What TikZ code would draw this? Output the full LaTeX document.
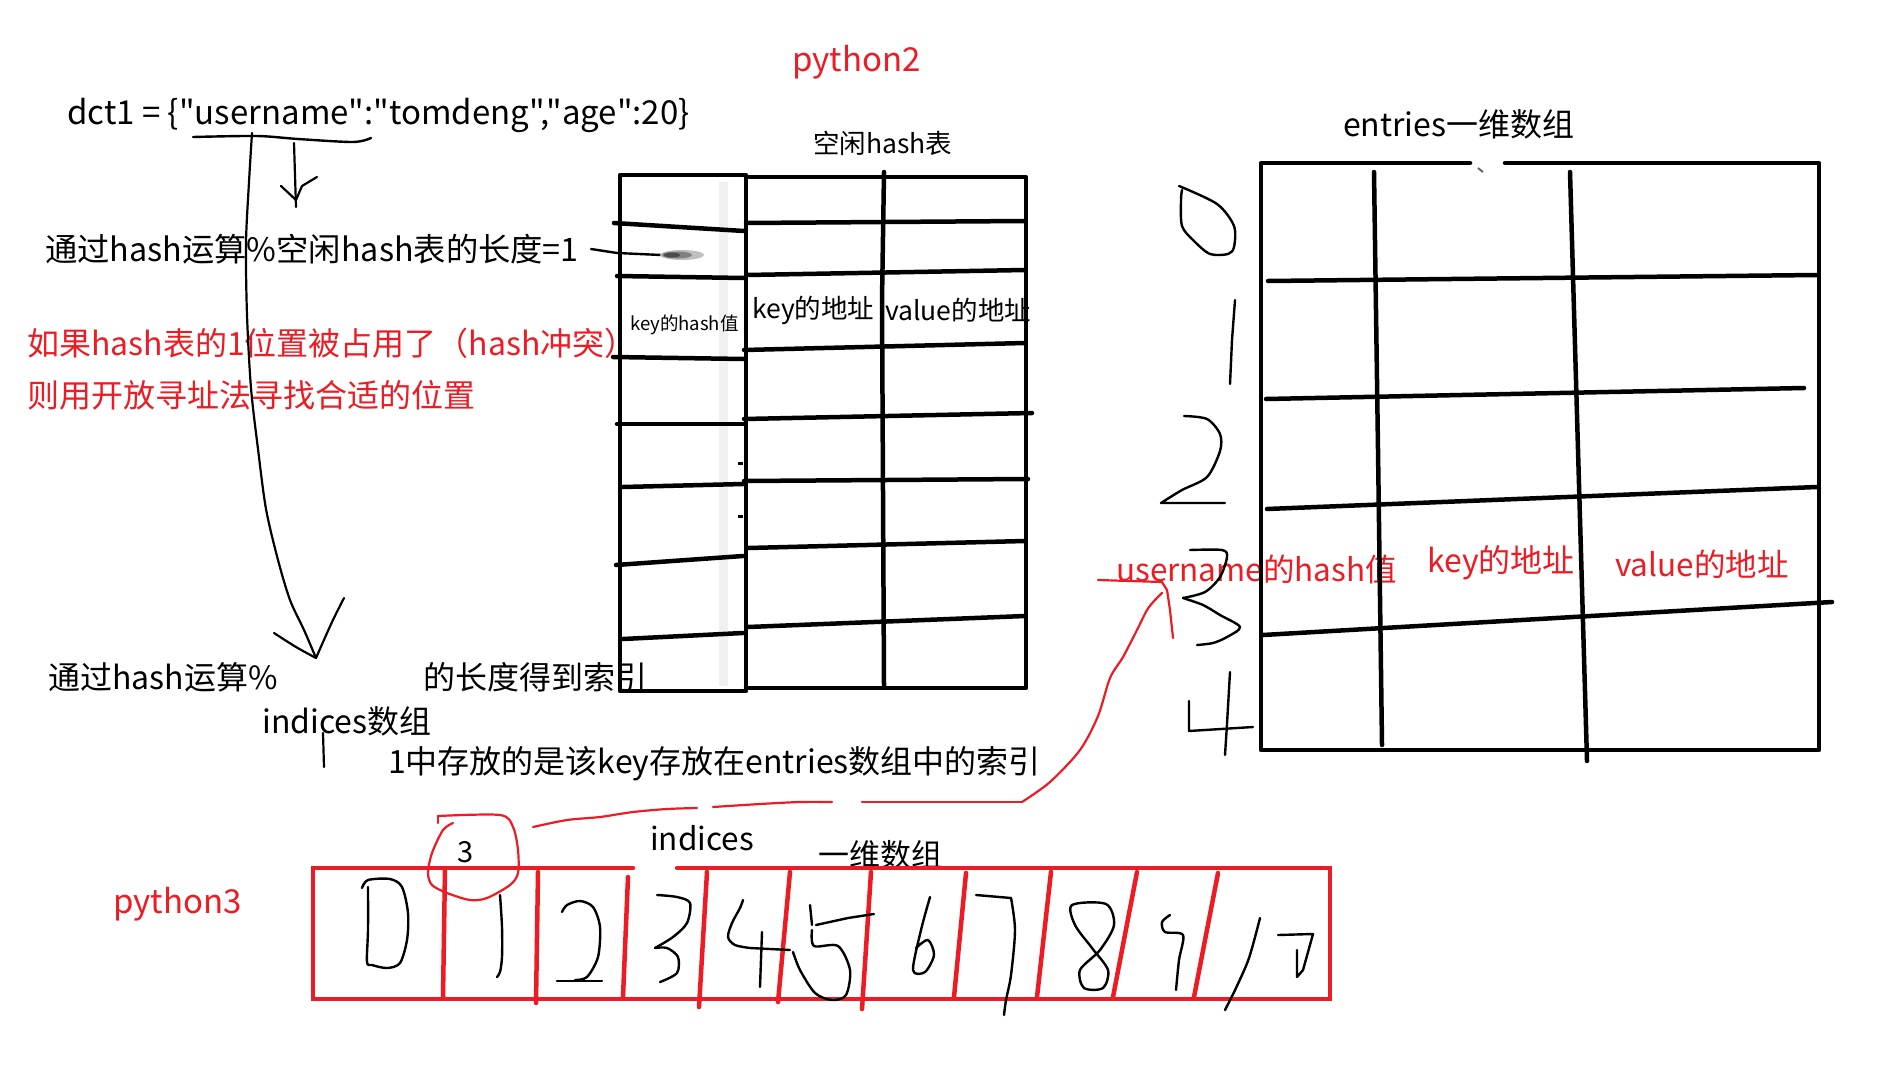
\documentclass[tikz,border=0pt]{standalone}
\usepackage{fontspec}
\setmainfont{Noto Sans CJK SC}[Ligatures=TeXOff]
\definecolor{pred}{RGB}{237,28,36}
\newcommand{\fsz}[1]{\fontsize{#1pt}{#1pt}\selectfont}
\begin{document}
\begin{tikzpicture}[x=1pt,y=-1pt,
  tbl/.style={line width=4.5pt,line cap=round,line join=round},
  hand/.style={line width=2.4pt,line cap=round,line join=round},
  redbox/.style={draw=pred,line width=4.5pt,line cap=round},
  redhand/.style={draw=pred,line width=2.2pt,line cap=round,line join=round},
  txt/.style={inner sep=0pt,anchor=west},
  rtxt/.style={inner sep=0pt,anchor=west,text=pred}]
\useasboundingbox[fill=white] (0,0) rectangle (1902,1065);

% faint streak in the hash table's first column
\draw[black!6,line width=9pt] (723,182) -- (723,686);

% ---------- texts ----------
\node[rtxt,font=\fsz{33}] (py2) at (792,62) {python2};
\node[txt,font=\fsz{33}] (dct) at (67,115) {dct1 = \{"username":"tomdeng","age":20\}};
\node[txt,font=\fsz{32.3}] (t1) at (45,249) {通过hash运算\%空闲hash表的长度=1};
\node[rtxt,font=\fsz{32}] (r1) at (27,343) {如果hash表的1位置被占用了（hash冲突）};
\node[rtxt,font=\fsz{32}] (r2) at (27,395) {则用开放寻址法寻找合适的位置};
\node[txt,font=\fsz{32}] (t2a) at (48,677) {通过hash运算\%};
\node[txt,font=\fsz{32}] (t2b) at (423,677) {的长度得到索引};
\node[txt,font=\fsz{32}] (ind) at (262,721) {indices数组};
\node[txt,font=\fsz{32}] (t3) at (388,764) {1中存放的是该key存放在entries数组中的索引};
\node[txt,font=\fsz{26.5}] (hth) at (813,143) {空闲hash表};
\node[txt,font=\fsz{18.5}] (khv) at (630,325) {key的hash值};
\node[txt,font=\fsz{26.5}] (kad) at (752,310) {key的地址};
\node[txt,font=\fsz{26.5}] (vad) at (885,310) {value的地址};
\node[txt,font=\fsz{32}] (ent) at (1343,124) {entries一维数组};
\node[rtxt,font=\fsz{31.5}] (uh) at (1116,569) {username的hash值};
\node[rtxt,font=\fsz{32}] (rk) at (1427,563) {key的地址};
\node[rtxt,font=\fsz{31.5}] (rv) at (1615,564) {value的地址};
\node[rtxt,font=\fsz{33}] (py3) at (113,904) {python3};
\node[txt,font=\fsz{29}] (three) at (457,852) {3};
\node[txt,font=\fsz{31.5}] (indc) at (650,838) {indices};
\node[txt,font=\fsz{31}] (ywsz) at (818,855) {一维数组};

% ---------- hash table (python2) ----------
\draw[tbl] (620,175) rectangle (746,691);
\draw[tbl] (746,177) -- (1026,177) -- (1026,688) -- (746,688);
\draw[tbl] (884,172) -- (882,300) -- (884,686);
% left column rows
\draw[tbl] (614,223) -- (744,231);
\draw[tbl] (617,276) -- (744,278);
\draw[tbl] (613,357) -- (744,359);
\draw[tbl] (617,424) -- (744,424);
\draw[tbl] (623,487) -- (743,484);
\draw[tbl] (616,565) -- (743,556);
\draw[tbl] (623,639) -- (743,633);
\draw[line width=3pt] (738,463) -- (743,463);
\draw[line width=3pt] (738,516) -- (743,516);
% right part rows
\draw[tbl] (746,223) -- (1025,221);
\draw[tbl] (747,275) -- (1025,270);
\draw[tbl] (744,350) -- (1025,343);
\draw[tbl] (744,419) -- (1032,413);
\draw[tbl] (744,481) -- (1028,479);
\draw[tbl] (748,548) -- (1025,541);
\draw[tbl] (748,627) -- (1025,616);
% pointer from "=1"
\coordinate (p1) at (661,255);
\draw[line width=2.4pt,line cap=round] (t1.east) ++(12,0) -- (617,253) -- (p1);
\fill[black!25] (682,255) ellipse (22pt and 5pt);
\fill[black!50] (677,255) ellipse (15pt and 3.5pt);
\fill[black!70] (672,255) ellipse (8pt and 2.5pt);

% ---------- entries table ----------
\draw[tbl] (1470,163) -- (1261,163) -- (1261,750) -- (1819,750) -- (1819,163) -- (1505,163);
\draw[line width=2pt,black!60] (1478,168) -- (1483,172);
\draw[tbl] (1374,172) -- (1378,450) -- (1382,745);
\draw[tbl] (1570,172) -- (1578,450) -- (1587,761);
\draw[tbl] (1268,281) -- (1817,275);
\draw[tbl] (1266,399) -- (1804,388);
\draw[tbl] (1267,509) -- (1817,487);
\draw[tbl] (1263,635) -- (1832,602);
% index digits 0-4
\draw[hand] plot[smooth] coordinates {(1179,186) (1217,204) (1234,226) (1234,247) (1228,254) (1210,254) (1194,241) (1182,226) (1181,200) (1182,190)};
\draw[hand] (1235,300) -- (1232,340) -- (1230,384);
\draw[hand] plot[smooth] coordinates {(1184,416) (1207,419) (1220,434) (1220,451) (1207,477) (1182,490) (1161,503)} -- (1225,503);
\draw[hand] plot[smooth] coordinates {(1190,550) (1222,550) (1227,557) (1220,577) (1205,592) (1183,598)};
\draw[hand] plot[smooth] coordinates {(1183,598) (1203,605) (1220,615) (1240,627) (1227,637) (1213,643) (1197,645)};
\draw[hand] (1189,701) -- (1189,731) -- (1253,727);
\draw[hand] (1230,672) -- (1227,724) -- (1225,755);

% ---------- long arrow from "username" ----------
\draw[hand] plot[smooth] coordinates {(193,137) (257,136) (298,139) (353,142) (371,138)};
\coordinate (ua) at (252,133);
\coordinate (ub) at (316,658);
\draw[line width=2.2pt,line cap=round] plot[smooth] coordinates {(ua) (249,182) (246,243) (247,315) (251,388) (258,449) (266,509) (278,560) (290,600) (304,630) (ub)};
\draw[line width=2.2pt,line cap=round] plot[smooth] coordinates {(274,633) (296,647) (ub)};
\draw[line width=2.2pt,line cap=round] plot[smooth] coordinates {(344,598) (332,622) (ub)};
% short arrow
\coordinate (sa) at (294,143);
\coordinate (sb) at (296,207);
\draw[line width=2.2pt,line cap=round] (sa) -- (sb);
\draw[line width=2.2pt,line cap=round,line join=round] (281,186) -- (296,200) -- (302,186) -- (317,177);
% small tick under indices
\draw[line width=2.2pt,line cap=round] (323,733) -- (324,767);

% ---------- indices red array ----------
\draw[redbox] (633,868) -- (313,868) -- (313,999) -- (1330,999) -- (1330,868) -- (677,868);
\draw[redbox] (445,869) -- (443,997);
\draw[redbox] (538,872) -- (536,1003);
\draw[redbox] (628,877) -- (623,997);
\draw[redbox] (707,872) -- (699,1007);
\draw[redbox] (790,872) -- (778,1002);
\draw[redbox] (871,872) -- (862,1009);
\draw[redbox] (966,873) -- (954,997);
\draw[redbox] (1051,872) -- (1037,997);
\draw[redbox] (1137,872) -- (1113,997);
\draw[redbox] (1218,873) -- (1194,997);
% handwritten digits 0..10
\draw[hand] plot[smooth] coordinates {(362,888) (368,880) (390,879) (402,887) (408,913) (407,940) (400,963) (387,968) (372,965) (367,962) (368,930) (368,887)};
\draw[hand] plot[smooth] coordinates {(500,895) (502,927) (502,957) (500,972) (497,977)};
\draw[hand] plot[smooth] coordinates {(562,912) (567,905) (580,901) (593,907) (600,927) (598,957) (587,977) (575,980)};
\draw[hand] (557,981) -- (602,981);
\draw[hand] plot[smooth] coordinates {(657,895) (677,897) (690,903) (687,923) (673,937) (655,948)};
\draw[hand] plot[smooth] coordinates {(655,948) (667,948) (678,957) (677,973) (660,982)};
\draw[hand] plot[smooth] coordinates {(743,900) (740,908) (732,923) (728,937) (735,945) (750,948)} -- (790,950);
\draw[hand] (762,932) -- (760,987);
\draw[hand] (810,905) -- (812,925);
\draw[hand] (816,925) -- (848,918) -- (874,914);
\draw[hand] plot[smooth] coordinates {(812,930) (814,946) (838,946) (850,970) (846,995) (832,1000) (815,993) (800,970) (793,952)};
\draw[hand] plot[smooth] coordinates {(930,897) (921,930) (913,970) (925,972) (934,955) (928,940) (916,948)};
\draw[hand] (976,895) -- (1011,898);
\draw[hand] plot[smooth] coordinates {(1011,898) (1015,930) (1011,975) (1006,1000) (1004,1015)};
\draw[hand] plot[smooth cycle] coordinates {(1072,905) (1106,904) (1114,925) (1100,950) (1080,970) (1084,988) (1103,988) (1108,970) (1092,948) (1075,925)};
\draw[hand] plot[smooth] coordinates {(1170,915) (1162,922) (1165,932) (1183,935) (1179,960) (1176,990)};
\draw[hand] plot[smooth] coordinates {(1260,918) (1249,958) (1236,988) (1225,1010)};
\draw[hand] (1278,935) -- (1313,934) -- (1303,970) -- (1297,977) -- (1297,950);

% ---------- red annotation curves ----------
\draw[redhand] (438,816) -- (438,823);
\draw[redhand] plot[smooth] coordinates {(438,816) (500,815) (513,827) (518,850) (518,873) (510,885) (487,898) (470,900) (447,893) (432,885) (428,873) (432,853) (443,830) (453,823)};
\draw[redhand] plot[smooth] coordinates {(533,827) (567,820) (600,817) (633,812) (667,809) (697,808)};
\coordinate (rc) at (1162,593);
\draw[redhand] plot[smooth] coordinates {(713,807) (760,804) (800,802) (832,802)};
\draw[redhand] (862,802) -- (1022,802);
\draw[redhand] plot[smooth] coordinates {(1022,802) (1050,782) (1080,750) (1098,716) (1110,678) (1123,657) (1137,630) (1147,610) (1155,600) (rc)};
\draw[redhand] (1098,580) -- (1162,582) -- (1167,590) -- (1170,610) -- (1173,638);
\end{tikzpicture}
\end{document}
